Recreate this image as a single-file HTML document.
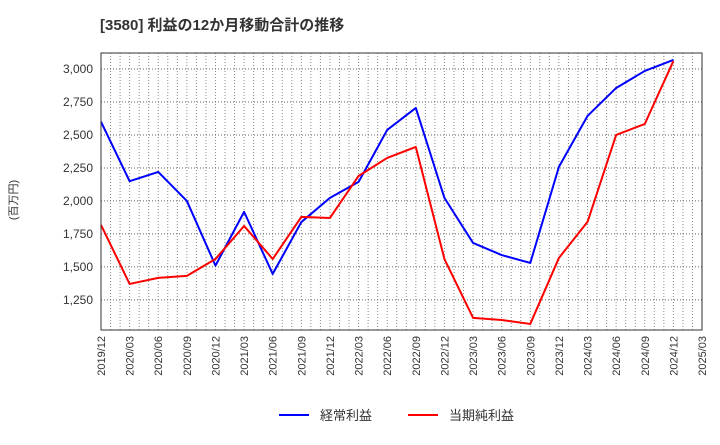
<!DOCTYPE html>
<html><head><meta charset="utf-8"><style>
body{margin:0;background:#fff;font-family:"Liberation Sans","Noto Sans CJK JP",sans-serif;}
svg text{font-family:"Liberation Sans","Noto Sans CJK JP",sans-serif;}
</style></head><body>
<svg id="c" width="720" height="440" xmlns="http://www.w3.org/2000/svg">
<text x="100" y="30" font-size="15" font-weight="bold" fill="#333">[3580]  利益の12か月移動合計の推移</text>
<text transform="translate(17,200) rotate(-90)" font-size="11" fill="#333" text-anchor="middle">(百万円)</text>
<g id="grid"></g><g id="ticks"></g><g id="series"></g>
<rect x="101" y="53" width="601" height="277" fill="none" stroke="#333" stroke-width="1"/>
<g>
<line x1="279" y1="415" x2="309" y2="415" stroke="#0000ff" stroke-width="2"/>
<text x="320" y="420" font-size="13" fill="#333">経常利益</text>
<line x1="408" y1="415" x2="438" y2="415" stroke="#ff0000" stroke-width="2"/>
<text x="449" y="420" font-size="13" fill="#333">当期純利益</text>
</g>
</svg>
<script>
const categories=["2019/12","2020/03","2020/06","2020/09","2020/12","2021/03","2021/06","2021/09","2021/12","2022/03","2022/06","2022/09","2022/12","2023/03","2023/06","2023/09","2023/12","2024/03","2024/06","2024/09","2024/12","2025/03"];
const ordinaryProfit=[2600,2150,2220,2000,1510,1917,1447,1840,2023,2144,2538,2705,2023,1682,1590,1530,2258,2644,2856,2985,3068];
const netProfit=[1818,1371,1417,1432,1560,1810,1560,1879,1871,2189,2326,2409,1560,1114,1098,1068,1568,1841,2500,2583,3060];
const yTicks=[1250,1500,1750,2000,2250,2500,2750,3000];
const L=101,R=702,T=53,B=330,yMin=1022,yMax=3121;
const ns="http://www.w3.org/2000/svg";
const xq=i=>L+(R-L)*i/(categories.length-1);
const y=v=>B-(v-yMin)/(yMax-yMin)*(B-T);
function mk(t,a,p){const e=document.createElementNS(ns,t);for(const k in a)e.setAttribute(k,a[k]);p.appendChild(e);return e;}
const grid=document.getElementById('grid'),ticks=document.getElementById('ticks'),ser=document.getElementById('series');
const nM=(categories.length-1)*3;
for(let m=1;m<nM;m++){const x=L+(R-L)*m/nM;
const g=mk('line',{x1:x,x2:x,y1:T,y2:B,stroke:'#888','stroke-width':1,'stroke-dasharray':'1,2'},grid);

}
yTicks.forEach(v=>{const yy=y(v);
const g=mk('line',{x1:L,x2:R,y1:yy,y2:yy,stroke:'#666','stroke-width':1,'stroke-dasharray':'1,2'},grid);


const t=mk('text',{x:L-8,y:yy+4,'font-size':12,fill:'#333','text-anchor':'end'},ticks);t.textContent=v.toLocaleString('en-US');

});
categories.forEach((c,i)=>{const x=xq(i);
const t=mk('text',{transform:`translate(${x+4},${B+6}) rotate(-90)`,'font-size':11,fill:'#333','text-anchor':'end'},ticks);t.textContent=c;

});
function line(d,col,name){const p=mk('polyline',{points:d.map((v,i)=>xq(i)+','+y(v)).join(' '),fill:'none',stroke:col,'stroke-width':2,'stroke-linejoin':'round'},ser);

}
line(ordinaryProfit,'#0000ff','ordinary-profit-line');
line(netProfit,'#ff0000','net-profit-line');
</script>
</body></html>
